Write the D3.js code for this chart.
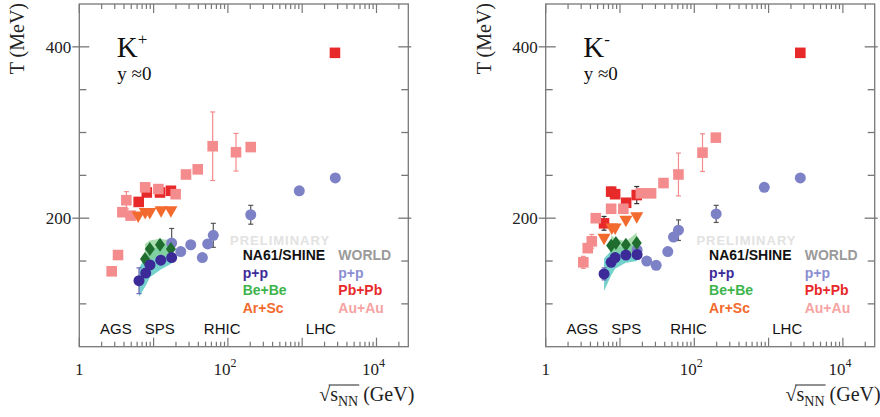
<!DOCTYPE html>
<html>
<head>
<meta charset="utf-8">
<script src="https://cdn.jsdelivr.net/npm/d3@7"></script>
<style>
  body { margin: 0; background: #fff; }
</style>
</head>
<body>
<div id="my_dataviz"></div>
<script>
/* global d3 */

// ---------- data (sqrt(s_NN) in GeV, T in MeV) ----------

// K+ panel
const kpAuAuS   = [2.73, 3.32, 3.8, 4.3, 4.9, 7.7, 11.6, 19.8, 27.3, 39.3, 62.4, 128.6, 203];
const kpAuAuT   = [138, 157, 207, 221, 203, 236, 234, 228, 251, 257, 284, 277, 283];
const kpAuAuErr = [0, 0, 0, 10, 0, 0, 0, 0, 0, 0, 40, 22, 5];

const kpPbPbS   = [6.3, 8.1, 12.2, 17.1, 2760];
const kpPbPbT   = [219, 230, 230, 232, 393];
const kpPbPbErr = [0, 0, 3, 4, 0];

const kpArScS = [6.2, 7.7, 8.9, 12.6, 17.1];
const kpArScT = [202, 206, 206, 208, 208];

const kpBeBeS  = [7.66, 8.9, 12.2, 17.1];
const kpBeBeT  = [152.5, 164, 169, 164];
const kpBeBeLo = [140, 150, 157, 154];
const kpBeBeHi = [170, 174, 176, 174];

const kpPPS   = [6.36, 7.83, 8.95, 12.5, 17.5];
const kpPPT   = [127, 136, 145.5, 151, 154];
const kpPPErr = [15, 5, 4, 3, 3];
const kpPPLo  = [108, 121, 131, 140, 147];
const kpPPHi  = [142, 155, 163, 168, 171];

const kpWorldS   = [17.5, 23.2, 31.6, 45.3, 53.5, 63.6, 203, 914, 2790];
const kpWorldT   = [171, 161, 169, 154, 170, 180, 204, 232, 247];
const kpWorldErr = [17, 0, 0, 0, 0, 14, 11, 3, 0];

// K- panel
const kmAuAuS   = [3.21, 3.68, 4.17, 4.72, 7.6, 11.1, 19.1, 26.2, 38.5, 61.2, 129, 195];
const kmAuAuT   = [148.5, 165, 173, 200, 211, 211, 229, 229, 241, 251, 276.5, 294];
const kmAuAuErr = [7, 0, 8, 0, 0, 0, 0, 0, 0, 25, 22, 4];

const kmPbPbS   = [6.1, 7.6, 8.6, 12.1, 16.8, 2673];
const kmPbPbT   = [194, 231, 228, 218, 227, 393];
const kmPbPbErr = [8, 5, 0, 3, 10, 0];

const kmArScS = [6.1, 7.75, 8.6, 12, 16.8];
const kmArScT = [176, 188, 188, 197, 201];

const kmBeBeS  = [7.6, 8.8, 12, 16.8];
const kmBeBeT  = [168, 171, 169, 171];
const kmBeBeLo = [153, 160, 162, 155];
const kmBeBeHi = [180, 176, 173, 183];

const kmPPS   = [6.1, 7.6, 8.6, 12, 17];
const kmPPT   = [135, 148.5, 154, 157, 157.5];
const kmPPErr = [7, 4, 3, 3, 5];
const kmPPLo  = [115, 133, 141, 148, 150];
const kmPPHi  = [153, 162, 165, 168, 170];

const kmWorldS   = [17, 22.9, 30.7, 44, 52.5, 61.2, 197, 875, 2673];
const kmWorldT   = [163, 150, 145, 161, 178, 186, 205, 236, 247];
const kmWorldErr = [0, 3, 3, 4, 0, 12, 10, 0, 0];

// axis labels / text
const yTicksMajor = [200, 400];
const yTicksMinor = [100, 150, 250, 300, 350];
const xTickLabels = [{v: 1, base: "1", sup: ""}, {v: 100, base: "10", sup: "2"}, {v: 10000, base: "10", sup: "4"}];
const regions = [{name: "AGS", s: 1.9}, {name: "SPS", s: 7.6}, {name: "RHIC", s: 47.5}, {name: "LHC", s: 1120}];

// ---------- layout ----------
const width = 880, height = 417;
const plotW = 329, plotTop = 4, plotBottom = 346.7;
const serif = "'Liberation Serif', 'Times New Roman', serif";
const sans = "'Liberation Sans', Arial, sans-serif";

const col = {
  pp: "#3b2a98", world: "#7d81c6", bebe: "#1f6e30", bebeText: "#3cb44b",
  arsc: "#f26a2e", pbpb: "#e8292a", auau: "#f48b8c", auauText: "#f6a3a3",
  teal: "#5cc9c3", green: "#86d08f"
};

const svg = d3.select("#my_dataviz")
  .append("svg")
    .attr("width", width)
    .attr("height", height)
    .style("font-family", serif);

const rows = (s, T, e) => s.map((v, i) => ({s: v, T: T[i], e: e ? e[i] : 0}));

const shapes = {
  circle: d3.symbol(d3.symbolCircle, Math.PI * 5.5 * 5.5)(),
  square: d3.symbol(d3.symbolSquare, 112)(),
  diamond: "M0,-7L5,0L0,7L-5,0Z",
  tri: "M-6.5,-5L6.5,-5L0,6.5Z"
};

function drawPanel(left, p) {
  const x = d3.scaleLog().domain([1, 26800]).range([left, left + plotW]);
  const y = d3.scaleLinear().domain([50, 450]).range([plotBottom, plotTop]);
  const right = left + plotW;
  const g = svg.append("g");
  const axisCol = "#777";

  // frame
  g.append("rect")
    .attr("x", left).attr("y", plotTop)
    .attr("width", plotW).attr("height", plotBottom - plotTop)
    .attr("fill", "none").attr("stroke", axisCol).attr("stroke-width", 1.3);

  // y ticks (left + right)
  yTicksMajor.forEach(v => {
    g.append("line").attr("x1", left - 7).attr("x2", left + 10).attr("y1", y(v)).attr("y2", y(v))
      .attr("stroke", axisCol).attr("stroke-width", 1.3);
    g.append("line").attr("x1", right - 10).attr("x2", right + 3).attr("y1", y(v)).attr("y2", y(v))
      .attr("stroke", axisCol).attr("stroke-width", 1.3);
    g.append("text").attr("x", left - 8).attr("y", y(v)).attr("dy", "0.36em")
      .attr("text-anchor", "end").style("font-size", "17px").attr("fill", "#222").text(v);
  });
  yTicksMinor.forEach(v => {
    g.append("line").attr("x1", left).attr("x2", left + 7).attr("y1", y(v)).attr("y2", y(v))
      .attr("stroke", axisCol).attr("stroke-width", 1.3);
    g.append("line").attr("x1", right - 7).attr("x2", right).attr("y1", y(v)).attr("y2", y(v))
      .attr("stroke", axisCol).attr("stroke-width", 1.3);
  });

  // x ticks (log, bottom + top)
  const xt = [];
  for (let d = 0; d <= 4; d++) {
    for (let k = 1; k <= 9; k++) {
      const v = k * Math.pow(10, d);
      if (v <= 26800) xt.push({v: v, major: k === 1});
    }
  }
  xt.forEach(t => {
    const len = t.major ? 9 : 5;
    g.append("line").attr("x1", x(t.v)).attr("x2", x(t.v))
      .attr("y1", plotBottom).attr("y2", plotBottom - len)
      .attr("stroke", axisCol).attr("stroke-width", 1.2);
    g.append("line").attr("x1", x(t.v)).attr("x2", x(t.v))
      .attr("y1", plotTop).attr("y2", plotTop + len)
      .attr("stroke", axisCol).attr("stroke-width", 1.2);
  });
  xTickLabels.forEach(t => {
    const tx = g.append("text")
      .attr("x", x(t.v) - (t.sup ? 3 : 0)).attr("y", 375)
      .attr("text-anchor", "middle").style("font-size", "17px").attr("fill", "#222");
    tx.append("tspan").text(t.base);
    if (t.sup) tx.append("tspan").attr("dy", -8).style("font-size", "12px").text(t.sup);
  });

  // axis titles
  g.append("text")
    .attr("transform", `translate(${left - 55}, 3) rotate(-90)`)
    .attr("text-anchor", "end").style("font-size", "20px").attr("fill", "#222")
    .text("T (MeV)");

  const xTitle = g.append("text")
    .attr("x", right + 6).attr("y", 401)
    .attr("text-anchor", "end").style("font-size", "20px").attr("fill", "#222");
  xTitle.append("tspan").text("\u221A");
  xTitle.append("tspan").text("s");
  xTitle.append("tspan").attr("dy", 5).style("font-size", "14px").text("NN");
  xTitle.append("tspan").attr("dy", -5).text(" (GeV)");
  const node = xTitle.node();
  const xa = node.getStartPositionOfChar(1).x;
  const xb = node.getEndPositionOfChar(3).x;
  g.append("line").attr("x1", xa - 1.5).attr("x2", xb + 1).attr("y1", 385).attr("y2", 385)
    .attr("stroke", "#222").attr("stroke-width", 1);

  // panel label
  const kl = g.append("text").attr("x", left + 37.5).attr("y", 57)
    .style("font-size", "29px").attr("fill", "#111");
  kl.append("tspan").text("K");
  kl.append("tspan").attr("dy", -12).style("font-size", "17px").text(p.sign);
  g.append("text").attr("x", left + 38).attr("y", 80)
    .style("font-size", "19px").attr("fill", "#111").text("y \u2248" + "0");

  // accelerator regions
  g.selectAll(".region")
    .data(regions)
    .join("text")
      .attr("x", d => x(d.s)).attr("y", 334)
      .style("font-family", sans).style("font-size", "15px").attr("fill", "#111")
      .text(d => d.name);

  // legend
  const lx1 = left + 163.4, lx2 = left + 259;
  g.append("text").attr("x", left + 150.7).attr("y", 244.5)
    .style("font-family", sans).style("font-weight", "bold").style("font-size", "13px")
    .style("letter-spacing", "1px").attr("fill", "#e2e2e2").text("PRELIMINARY");
  const legend = [
    {x: lx1, y: 260, t: "NA61/SHINE", c: "#111"},
    {x: lx2, y: 260, t: "WORLD", c: "#9a9a9a"},
    {x: lx1, y: 277.5, t: "p+p", c: col.pp},
    {x: lx2, y: 277.5, t: "p+p", c: "#8a8ed0"},
    {x: lx1, y: 295, t: "Be+Be", c: col.bebeText},
    {x: lx2, y: 295, t: "Pb+Pb", c: col.pbpb},
    {x: lx1, y: 312.5, t: "Ar+Sc", c: col.arsc},
    {x: lx2, y: 312.5, t: "Au+Au", c: col.auauText}
  ];
  g.selectAll(".leg")
    .data(legend)
    .join("text")
      .attr("x", d => d.x).attr("y", d => d.y)
      .style("font-family", sans).style("font-weight", "bold").style("font-size", "14px")
      .attr("fill", d => d.c)
      .text(d => d.t);

  // systematic bands
  const area = d3.area()
    .x(d => x(d.s))
    .y0(d => y(d.lo))
    .y1(d => y(d.hi));
  g.append("path")
    .datum(p.ppS.map((s, i) => ({s: s, lo: p.ppLo[i], hi: p.ppHi[i]})))
    .attr("d", area).attr("fill", col.teal).attr("opacity", 0.85);
  g.append("path")
    .datum(p.bebeS.map((s, i) => ({s: s, lo: p.bebeLo[i], hi: p.bebeHi[i]})))
    .attr("d", area).attr("fill", col.green).attr("opacity", 0.7);

  // one series: error bars then markers
  function series(data, shape, fill, barCol) {
    const withErr = data.filter(d => d.e > 0);
    g.selectAll(null).data(withErr).join("line")
      .attr("x1", d => x(d.s)).attr("x2", d => x(d.s))
      .attr("y1", d => y(d.T - d.e)).attr("y2", d => y(d.T + d.e))
      .attr("stroke", barCol).attr("stroke-width", 1.2);
    [-1, 1].forEach(sg => {
      g.selectAll(null).data(withErr).join("line")
        .attr("x1", d => x(d.s) - 2.5).attr("x2", d => x(d.s) + 2.5)
        .attr("y1", d => y(d.T + sg * d.e)).attr("y2", d => y(d.T + sg * d.e))
        .attr("stroke", barCol).attr("stroke-width", 1.2);
    });
    g.selectAll(null).data(data).join("path")
      .attr("d", shapes[shape])
      .attr("transform", d => `translate(${x(d.s)}, ${y(d.T)})`)
      .attr("fill", fill);
  }

  series(rows(p.worldS, p.worldT, p.worldErr), "circle", col.world, "#555");
  series(rows(p.pbpbS, p.pbpbT, p.pbpbErr), "square", col.pbpb, "#333");
  series(rows(p.auauS, p.auauT, p.auauErr), "square", col.auau, col.auau);
  series(rows(p.arscS, p.arscT), "tri", col.arsc, "#333");
  series(rows(p.bebeS, p.bebeT), "diamond", col.bebe, "#333");
  series(rows(p.ppS, p.ppT, p.ppErr), "circle", col.pp, "#6d62b8");
}

drawPanel(79.3, {
  sign: "+",
  auauS: kpAuAuS, auauT: kpAuAuT, auauErr: kpAuAuErr,
  pbpbS: kpPbPbS, pbpbT: kpPbPbT, pbpbErr: kpPbPbErr,
  arscS: kpArScS, arscT: kpArScT,
  bebeS: kpBeBeS, bebeT: kpBeBeT, bebeLo: kpBeBeLo, bebeHi: kpBeBeHi,
  ppS: kpPPS, ppT: kpPPT, ppErr: kpPPErr, ppLo: kpPPLo, ppHi: kpPPHi,
  worldS: kpWorldS, worldT: kpWorldT, worldErr: kpWorldErr
});

drawPanel(545.7, {
  sign: "-",
  auauS: kmAuAuS, auauT: kmAuAuT, auauErr: kmAuAuErr,
  pbpbS: kmPbPbS, pbpbT: kmPbPbT, pbpbErr: kmPbPbErr,
  arscS: kmArScS, arscT: kmArScT,
  bebeS: kmBeBeS, bebeT: kmBeBeT, bebeLo: kmBeBeLo, bebeHi: kmBeBeHi,
  ppS: kmPPS, ppT: kmPPT, ppErr: kmPPErr, ppLo: kmPPLo, ppHi: kmPPHi,
  worldS: kmWorldS, worldT: kmWorldT, worldErr: kmWorldErr
});
</script>
</body>
</html>
